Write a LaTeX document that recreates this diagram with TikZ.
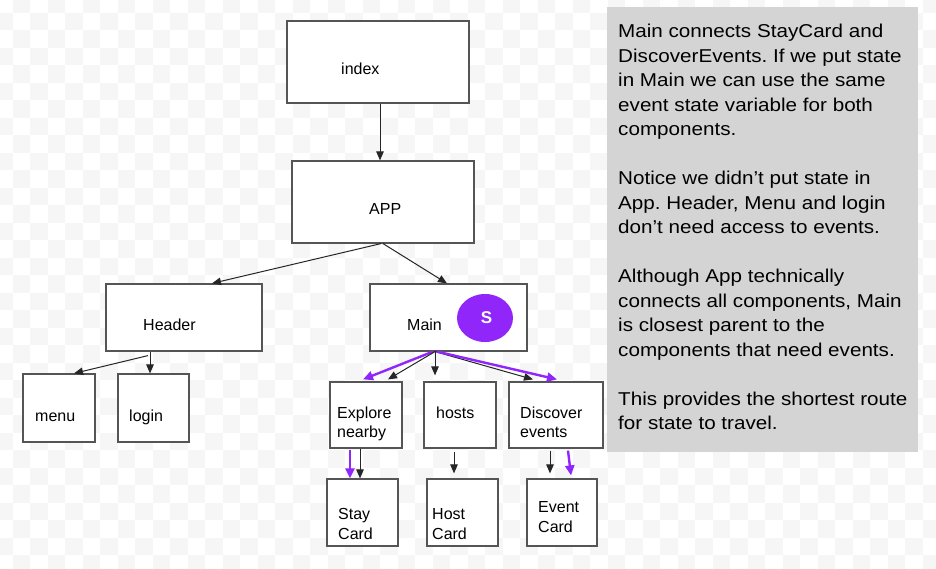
\documentclass[tikz,border=0pt]{standalone}
\usepackage{fontspec}
\setmainfont{Liberation Sans}
\newfontfamily\sidefont[FakeStretch=1.11]{Liberation Sans}
\usetikzlibrary{arrows.meta}
\frenchspacing
\definecolor{stpurple}{RGB}{144,38,250}
\definecolor{sidegray}{RGB}{212,212,212}
\definecolor{checkgray}{RGB}{246,246,246}
\definecolor{boxline}{RGB}{85,85,85}
\tikzset{
  box/.style={draw=boxline, line width=1.2pt, fill=white, inner sep=0pt},
  lbl/.style={anchor=base west, inner sep=0pt, font=\fontsize{16}{19}\selectfont},
  arr/.style={draw=black!85, line width=1pt, -{Triangle[length=9pt,width=7.5pt]}},
  parr/.style={draw=stpurple, line width=2.4pt, -{Triangle[length=10pt,width=9pt]}},
  sideline/.style={anchor=base west, inner sep=0pt, font=\sidefont\fontsize{18.6}{24.5}\selectfont}
}
\begin{document}
\begin{tikzpicture}[x=1pt,y=-1pt]
\useasboundingbox (0,0) rectangle (936,569);
% background checker
\begin{scope}
\clip (0,0) rectangle (936,569);
\fill[white] (0,0) rectangle (936,569);
\foreach \i in {0,...,54}{
  \foreach \j in {0,...,33}{
    \pgfmathtruncatemacro{\cpar}{mod(\i+\j,2)}
    \ifnum\cpar=1
      \fill[checkgray] ({-4.8+17.5*\i},{-4.8+17.5*\j}) rectangle ++(17.5,17.5);
    \fi
  }
}
\end{scope}
% side note
\fill[sidegray] (607,7) rectangle (918,452);
\foreach \t [count=\k from 0] in {
  {Main connects StayCard and},
  {DiscoverEvents. If we put state},
  {in Main we can use the same},
  {event state variable for both},
  {components.},
  {},
  {Notice we didn’t put state in},
  {App. Header, Menu and login},
  {don’t need access to events.},
  {},
  {Although App technically},
  {connects all components, Main},
  {is closest parent to the},
  {components that need events.},
  {},
  {This provides the shortest route},
  {for state to travel.}}{
  \node[sideline] (side\k) at (618,{37.8+24.5*\k}) {\t};
}
% boxes
\node[box, minimum width=182pt, minimum height=82pt] (index) at (378,62) {};
\node[box, minimum width=182pt, minimum height=82pt] (APP) at (383,202) {};
\node[box, minimum width=156pt, minimum height=67pt] (Header) at (184,317.5) {};
\node[box, minimum width=157pt, minimum height=67pt] (Main) at (448.5,317.5) {};
\node[box, minimum width=72pt, minimum height=68pt] (menu) at (59,408) {};
\node[box, minimum width=71pt, minimum height=68pt] (login) at (153.5,408) {};
\node[box, minimum width=72pt, minimum height=66pt] (explore) at (366,415) {};
\node[box, minimum width=72pt, minimum height=66pt] (hosts) at (460,415) {};
\node[box, minimum width=94pt, minimum height=66pt] (discover) at (556,415) {};
\node[box, minimum width=71pt, minimum height=67pt] (stay) at (362.5,512.5) {};
\node[box, minimum width=71pt, minimum height=67pt] (host) at (462.5,512.5) {};
\node[box, minimum width=70pt, minimum height=67pt] (event) at (562,512.5) {};
% state ellipse
\fill[stpurple] (485,318) ellipse [x radius=28, y radius=24];
\node[inner sep=0pt, text=white, font=\bfseries\fontsize{17}{20}\selectfont] (S) at (486.5,318) {S};
% labels
\node[lbl] (tindex) at (341,75) {index};
\node[lbl] (tapp) at (369,215) {APP};
\node[lbl] (theader) at (143,330) {Header};
\node[lbl] (tmain) at (407,330) {Main};
\node[lbl] (tmenu) at (35,421) {menu};
\node[lbl] (tlogin) at (129,421) {login};
\node[lbl] (texp1) at (337,418) {Explore};
\node[lbl] (texp2) at (337,437) {nearby};
\node[lbl] (thosts) at (436,418) {hosts};
\node[lbl] (tdisc1) at (520,418) {Discover};
\node[lbl] (tdisc2) at (520,437) {events};
\node[lbl] (tstay1) at (338,519) {Stay};
\node[lbl] (tstay2) at (338,539) {Card};
\node[lbl] (thost1) at (432,519) {Host};
\node[lbl] (thost2) at (432,539) {Card};
\node[lbl] (tevent1) at (538,512) {Event};
\node[lbl] (tevent2) at (538,532) {Card};
% connectors
\draw[arr] ([xshift=2pt]index.south) -- ([xshift=2pt]index.south |- APP.north);
\draw[arr] ([xshift=-2pt]APP.south) -- ([xshift=28pt]Header.north);
\draw[arr] (APP.south) -- ([xshift=-1.5pt]Main.north);
\coordinate (hb) at ([xshift=-34pt]Header.south);
\draw[arr] (hb) -- (hb |- login.north);
\draw[arr] ([xshift=-2pt,yshift=-4pt]hb) -- ([xshift=15pt]menu.north);
\coordinate (mb) at ([xshift=-13.5pt]Main.south);
\draw[parr] ([xshift=-2pt]mb) -- ([xshift=-3pt,yshift=2pt]explore.north);
\draw[arr] (mb) -- ([xshift=22pt,yshift=2pt]explore.north);
\draw[arr] (mb) -- ([yshift=6pt]mb |- hosts.north);
\draw[arr] (mb) -- ([xshift=-23pt,yshift=2pt]discover.north);
\draw[parr] ([xshift=2pt]mb) -- ([xshift=1pt,yshift=2pt]discover.north);
\draw[parr] ([xshift=-16pt,yshift=-1pt]explore.south) -- ([xshift=-12.5pt]stay.north);
\draw[arr] ([xshift=-6pt]explore.south) -- ([xshift=-2.5pt]stay.north);
\draw[arr] ([xshift=-6pt,yshift=-3pt]hosts.south) -- ([xshift=-8.5pt,yshift=5pt]host.north);
\draw[arr] ([xshift=-6pt,yshift=-2pt]discover.south) -- ([xshift=-12pt,yshift=5pt]event.north);
\draw[parr] ([xshift=12pt,yshift=-2pt]discover.south) -- ([xshift=9pt,yshift=3pt]event.north);
\end{tikzpicture}
\end{document}
